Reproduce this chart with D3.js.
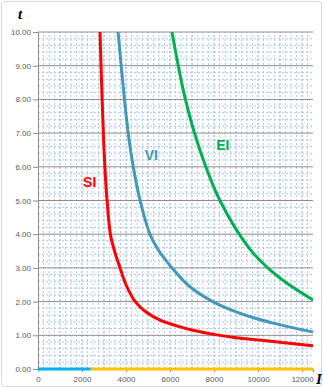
<!DOCTYPE html>
<html lang="en">
<head>
<meta charset="UTF-8">
<script src="https://d3js.org/d3.v7.min.js" charset="utf-8"></script>
<title>Courbes</title>
<style>
  body { margin: 0; background: #fff; }
  text { font-family: "Liberation Sans", Arial, sans-serif; }
</style>
</head>
<body>
<div id="chart"></div>
<script>
const width = 323, height = 388;
const margin = { top: 32, right: 10, bottom: 19, left: 38 };

// courbes (courant I, temps t)
const siI = [2820, 2865, 2915, 2970, 3040, 3140, 3290, 3480, 3730, 4000, 4420, 4900, 5550, 6300, 7050, 8050, 9000, 10050, 11200, 12500];
const siT = [10, 9, 8, 7, 6, 5, 4, 3.5, 3.0, 2.5, 2.0, 1.7, 1.45, 1.28, 1.15, 1.02, 0.93, 0.86, 0.78, 0.69];
const viI = [3640, 3780, 3930, 4100, 4330, 4640, 5090, 5500, 6090, 6800, 7800, 8600, 9800, 10700, 11600, 12500];
const viT = [10, 9, 8, 7, 6, 5, 4, 3.5, 3.0, 2.5, 2.05, 1.8, 1.52, 1.36, 1.22, 1.1];
const eiI = [6090, 6700, 7360, 8270, 9640, 10550, 11300, 12500];
const eiT = [10, 8.0, 6.5, 5.0, 3.55, 2.94, 2.55, 2.05];
// segments sur l'axe t = 0
const baseI = [0, 2400, 12500];
const xTicks = [0, 2000, 4000, 6000, 8000, 10000, 12000];
const yTicks = [0, 1, 2, 3, 4, 5, 6, 7, 8, 9, 10];

const svg = d3.select("#chart").append("svg")
  .attr("width", width).attr("height", height);

// cadre extérieur
svg.append("rect").attr("x", 1.5).attr("y", 1.5)
  .attr("width", width - 3).attr("height", height - 3)
  .attr("rx", 3).attr("fill", "none").attr("stroke", "#d9d9d9");

const x = d3.scaleLinear().domain([0, 12500]).range([margin.left, width - margin.right]);
const y = d3.scaleLinear().domain([0, 10]).range([height - margin.bottom, margin.top]);

const grid = svg.append("g");
// grille secondaire
grid.selectAll(".vx").data(d3.range(250, 12500, 250)).enter().append("line")
  .attr("x1", d => x(d)).attr("x2", d => x(d))
  .attr("y1", y(0)).attr("y2", y(10))
  .attr("stroke", d => d % 1000 === 0 ? "#7fa6d8" : "#b3cbe9")
  .attr("stroke-width", 1).attr("stroke-dasharray", "2,2");
grid.selectAll(".hy").data(d3.range(0.2, 10, 0.2).filter(d => Math.abs(d - Math.round(d)) > 0.01)).enter().append("line")
  .attr("x1", x(0)).attr("x2", x(12500))
  .attr("y1", d => y(d)).attr("y2", d => y(d))
  .attr("stroke", "#a9c3e6").attr("stroke-width", 1).attr("stroke-dasharray", "2,2");
// grille principale
grid.selectAll(".hm").data(yTicks.slice(1)).enter().append("line")
  .attr("x1", x(0)).attr("x2", x(12500))
  .attr("y1", d => y(d)).attr("y2", d => y(d))
  .attr("stroke", "#8c8c8c").attr("stroke-width", 1);

// axes
const yAxis = svg.append("g").attr("transform", `translate(${margin.left},0)`)
  .call(d3.axisLeft(y).tickValues(yTicks).tickFormat(d3.format(".2f")).tickSize(5));
const xAxis = svg.append("g").attr("transform", `translate(0,${y(0)})`)
  .call(d3.axisBottom(x).tickValues(xTicks).tickFormat(d => d).tickSize(3));
[yAxis, xAxis].forEach(a => {
  a.select(".domain").attr("stroke", "#8c8c8c");
  a.selectAll(".tick line").attr("stroke", "#8c8c8c");
  a.selectAll("text").attr("fill", "#595959").style("font-size", "8px");
});
yAxis.selectAll("text").attr("x", -7);
xAxis.selectAll("text").attr("y", 7);

// courbes
const line = d3.line().x(d => x(d[0])).y(d => y(d[1])).curve(d3.curveCatmullRom.alpha(0.5));
svg.append("clipPath").attr("id", "clip").append("rect")
  .attr("x", x(0)).attr("y", y(10)).attr("width", x(12500) - x(0)).attr("height", y(0) - y(10) + 2);
const curves = svg.append("g").attr("clip-path", "url(#clip)");

curves.append("line").attr("x1", x(baseI[0])).attr("x2", x(baseI[1]))
  .attr("y1", y(0)).attr("y2", y(0)).attr("stroke", "#00b0f0").attr("stroke-width", 3);
curves.append("line").attr("x1", x(baseI[1])).attr("x2", x(baseI[2]))
  .attr("y1", y(0)).attr("y2", y(0)).attr("stroke", "#ffc000").attr("stroke-width", 3);

const series = [
  { I: eiI, t: eiT, color: "#00b050" },
  { I: viI, t: viT, color: "#4298b8" },
  { I: siI, t: siT, color: "#ff0000" }
];
series.forEach(s => {
  curves.append("path").datum(d3.zip(s.I, s.t))
    .attr("d", line).attr("fill", "none")
    .attr("stroke", s.color).attr("stroke-width", 3);
});

// étiquettes
const labels = [
  { txt: "SI", I: 2050, t: 5.4, color: "#ff0000" },
  { txt: "VI", I: 4850, t: 6.2, color: "#4298b8" },
  { txt: "EI", I: 8100, t: 6.5, color: "#00b050" }
];
svg.selectAll(".lab").data(labels).enter().append("text")
  .attr("x", d => x(d.I)).attr("y", d => y(d.t))
  .attr("fill", d => d.color).style("font-size", "14px").style("font-weight", "bold")
  .text(d => d.txt);

svg.append("text").attr("x", 18).attr("y", 19)
  .style("font-family", "'Liberation Serif', serif").style("font-style", "italic")
  .style("font-weight", "bold").style("font-size", "15px").text("t");
svg.append("text").attr("x", 316).attr("y", 384)
  .style("font-family", "'Liberation Serif', serif").style("font-style", "italic")
  .style("font-weight", "bold").style("font-size", "15px").text("I");
</script>
</body>
</html>
